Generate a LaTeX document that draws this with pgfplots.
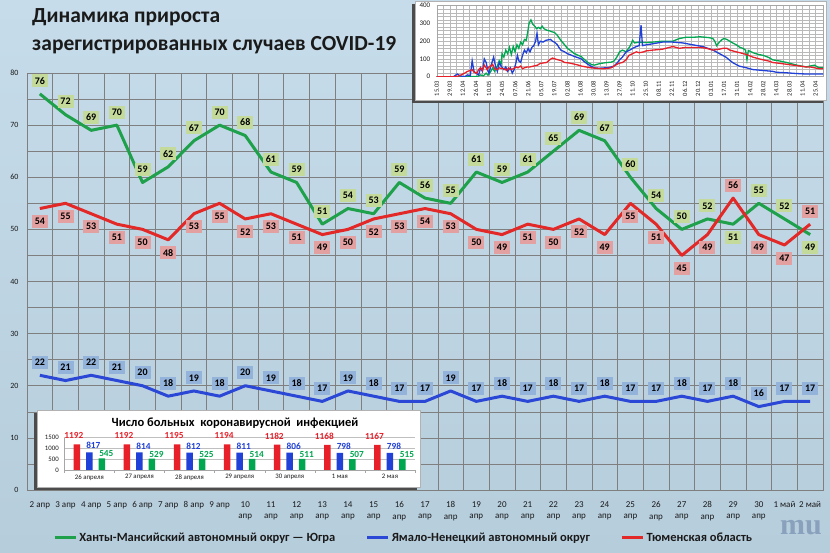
\documentclass[border=0pt]{standalone}
\usepackage{fontspec}
\setmainfont{Carlito}
\setsansfont{Carlito}
\newfontfamily\logofont{Liberation Serif}
\usepackage{pgfplots}
\pgfplotsset{compat=1.18}
\usepackage{pgfplotstable}

\definecolor{bgA}{HTML}{C6DCEA}
\definecolor{bgB}{HTML}{B6CDDC}
\definecolor{gridc}{HTML}{7F7F7F}
\definecolor{cG}{HTML}{1FA04A}
\definecolor{cR}{HTML}{E32828}
\definecolor{cB}{HTML}{2B47D6}
\definecolor{lG}{HTML}{C3DA9A}
\definecolor{lR}{HTML}{E2A0A0}
\definecolor{lB}{HTML}{93B3DA}
\definecolor{txt}{HTML}{1A1A1A}
\definecolor{bG}{HTML}{00A650}
\definecolor{bR}{HTML}{E8202A}
\definecolor{bB}{HTML}{2040D8}

\pgfplotstableread{
x y p
0 76 1
1 72 1
2 69 1
3 70 1
4 59 1
5 62 1
6 67 1
7 70 1
8 68 1
9 61 1
10 59 1
11 51 1
12 54 1
13 53 1
14 59 1
15 56 1
16 55 1
17 61 1
18 59 1
19 61 1
20 65 1
21 69 1
22 67 1
23 60 1
24 54 1
25 50 1
26 52 1
27 51 -1
28 55 1
29 52 1
30 49 -1
}\tblG

\pgfplotstableread{
x y p
0 54 -1
1 55 -1
2 53 -1
3 51 -1
4 50 -1
5 48 -1
6 53 -1
7 55 -1
8 52 -1
9 53 -1
10 51 -1
11 49 -1
12 50 -1
13 52 -1
14 53 -1
15 54 -1
16 53 -1
17 50 -1
18 49 -1
19 51 -1
20 50 -1
21 52 -1
22 49 -1
23 55 -1
24 51 -1
25 45 -1
26 49 -1
27 56 1
28 49 -1
29 47 -1
30 51 1
}\tblR

\pgfplotstableread{
x y p
0 22 1
1 21 1
2 22 1
3 21 1
4 20 1
5 18 1
6 19 1
7 18 1
8 20 1
9 19 1
10 18 1
11 17 1
12 19 1
13 18 1
14 17 1
15 17 1
16 19 1
17 17 1
18 18 1
19 17 1
20 18 1
21 17 1
22 18 1
23 17 1
24 17 1
25 18 1
26 17 1
27 18 1
28 16 1
29 17 1
30 17 1
}\tblB

\pgfplotsset{
  lbl/.style={
    draw=none, forget plot, nodes near coords,
    point meta=explicit symbolic,
    visualization depends on={\thisrow{p}\as\lp},
    nodes near coords align={center},
    every node near coord/.append style={
      font=\fontsize{10bp}{11bp}\selectfont\bfseries, text=black,
      fill=#1, inner sep=1bp, minimum width=16bp, minimum height=13bp,
      yshift=\lp*13bp}
  },
  blbl/.style 2 args={
    nodes near coords, point meta=explicit symbolic,
    every node near coord/.append style={font=\fontsize{9.3bp}{10bp}\selectfont\bfseries,
      text=#1, inner sep=0.2bp, #2}
  }
}

\begin{document}
\begin{tikzpicture}
\path[use as bounding box] (0,0) rectangle (830bp,553bp);
\shade[top color=bgA, bottom color=bgB] (0,0) rectangle (830bp,553bp);

\node[anchor=west, text=txt, font=\fontsize{21.5bp}{25bp}\selectfont\bfseries, inner sep=0pt] at (32bp,536bp) {Динамика прироста};
\node[anchor=west, text=txt, font=\fontsize{21.5bp}{25bp}\selectfont\bfseries, inner sep=0pt] at (32bp,508bp) {зарегистрированных случаев COVID-19};

\begin{axis}[
  at={(27bp,63bp)}, anchor=south west,
  scale only axis, width=796bp, height=417bp,
  xmin=-0.5, xmax=30.5, ymin=0, ymax=80,
  xtick={0,...,30},
  xticklabels={2 апр,3 апр,4 апр,5 апр,6 апр,7 апр,8 апр,9 апр,
    {10\\апр},{11\\апр},{12\\апр},{13\\апр},{14\\апр},{15\\апр},{16\\апр},{17\\апр},
    {18\\апр},{19\\апр},{20\\апр},{21\\апр},{22\\апр},{23\\апр},{24\\апр},{25\\апр},
    {26\\апр},{27\\апр},{28\\апр},{29\\апр},{30\\апр},1 май,2 май},
  minor xtick={-0.5,0.5,...,30.5},
  ytick={0,10,...,80},
  minor ytick={5,15,...,75},
  xmajorgrids=false, xminorgrids=true, ymajorgrids=true, yminorgrids=true,
  grid style={gridc, line width=0.6bp},
  minor grid style={gridc, line width=0.6bp},
  axis line style={gridc, line width=0.6bp},
  major tick length=0pt, minor tick length=0pt,
  /pgf/number format/assume math mode=true,
  xticklabel style={font=\fontsize{9bp}{11.5bp}\selectfont, text=txt, align=center, yshift=-8bp},
  yticklabel style={font=\fontsize{8bp}{9bp}\selectfont, text=txt, xshift=-5bp},
  legend style={at={(0.473,-0.1144)}, anchor=center, legend columns=3, draw=none, fill=none,
    font=\fontsize{12.5bp}{14bp}\selectfont\bfseries, text=txt,
    /tikz/every even column/.append style={column sep=28bp}},
  legend image code/.code={\draw[#1, line width=3.5bp] (0bp,0bp) -- (21bp,0bp);},
]
\addplot[cG, line width=3bp, line join=round] table[x=x,y=y]{\tblG};
\addlegendentry{Ханты-Мансийский автономный округ — Югра}
\addplot[cB, line width=3bp, line join=round] table[x=x,y=y]{\tblB};
\addlegendentry{Ямало-Ненецкий автономный округ}
\addplot[cR, line width=3bp, line join=round] table[x=x,y=y]{\tblR};
\addlegendentry{Тюменская область}
\addplot[lbl=lG] table[x=x,y=y,meta=y]{\tblG};
\addplot[lbl=lB] table[x=x,y=y,meta=y]{\tblB};
\addplot[lbl=lR] table[x=x,y=y,meta=y]{\tblR};
\end{axis}

% logo
\node[text=lB!80!black, opacity=0.7, font=\logofont\fontsize{30bp}{30bp}\selectfont\bfseries] at (801bp,25bp) {mu};

% top-right inset box
\fill[black!70] (412bp,450bp) rectangle (823bp,549bp);
\fill[white, draw=gray!60] (415bp,453bp) rectangle (826bp,552bp);

\begin{axis}[
  at={(436.7bp,476.3bp)}, anchor=south west,
  scale only axis, width=386.3bp, height=71bp,
  xmin=0, xmax=414, ymin=0, ymax=400,
  xtick={0,14,...,406},
  xticklabels={15.03,29.03,12.04,26.04,10.05,24.05,07.06,21.06,05.07,19.07,02.08,16.08,30.08,13.09,27.09,11.10,25.10,08.11,22.11,06.12,20.12,03.01,17.01,31.01,14.02,28.02,14.03,28.03,11.04,25.04},
  minor x tick num=1,
  ytick={0,100,...,400},
  minor y tick num=4,
  grid=both,
  grid style={gray!55, line width=0.4bp},
  minor grid style={gray!55, line width=0.4bp},
  axis line style={gray!70, line width=0.4bp},
  major tick length=0pt, minor tick length=0pt,
  /pgf/number format/assume math mode=true,
  xticklabel style={rotate=90, anchor=east, font=\fontsize{6.5bp}{7bp}\selectfont, text=txt, xshift=-1bp},
  yticklabel style={font=\fontsize{7bp}{8bp}\selectfont, text=txt, xshift=-3bp},
]
\addplot[bG, line width=1.3bp] coordinates {(0,0) (20,0) (35,0) (44,2) (47,10) (50,5) (53,20) (55,8) (58,30) (60,50) (62,30) (65,60) (67,90) (69,70) (70,130) (72,110) (74,150) (76,130) (78,165) (80,125) (82,170) (84,140) (86,180) (88,160) (90,195) (92,180) (94,210) (96,205) (97.5,250) (99,300) (101,320) (103,295) (105,285) (107,270) (109,278) (111,270) (113,285) (115,270) (118,262) (121,258) (124,252) (126,250) (129,235) (133,205) (137,180) (140,160) (144,145) (147,132) (151,122) (155,113) (158,98) (162,80) (166,68) (169,65) (172,70) (176,75) (180,78) (183,80) (187,82) (190,88) (193,110) (196,140) (199,150) (203,140) (207,170) (210,205) (212,190) (217,195) (224,192) (232,195) (242,200) (253,200) (260,215) (267,222) (275,222) (282,225) (288,222) (292,220) (296,215) (298,200) (300,175) (303,195) (306,210) (308,215) (311,210) (314,200) (318,188) (321,180) (325,165) (328,160) (331,150) (332.5,95) (334,148) (339,135) (345,125) (350,120) (356,108) (360,95) (368,88) (375,80) (381,72) (386,65) (391,60) (396,55) (400,60) (405,65) (408,55) (410,50) (414,50)};
\addplot[bB, line width=1.3bp] coordinates {(0,0) (18,0) (22,15) (25,5) (30,0) (33,10) (36,5) (38,90) (40,30) (42,20) (45,10) (47,50) (49,30) (51,100) (53,80) (55,30) (56,20) (58,60) (61,110) (63,60) (65,30) (67,80) (69,60) (72,40) (74,55) (76,30) (79,50) (81,20) (83,40) (85,80) (86.5,120) (88,90) (90,80) (92,120) (94,150) (96,135) (98,160) (100,140) (102,165) (104,175) (106,200) (107.5,245) (109,180) (111,200) (114,195) (117,205) (120,208) (122,210) (124,200) (126,195) (129,182) (131,165) (133,150) (137,140) (140,130) (144,122) (147,115) (151,108) (155,100) (158,85) (162,70) (165,60) (169,50) (173,48) (176,48) (180,50) (183,50) (187,55) (190,60) (193,75) (196,95) (199,110) (203,140) (207,150) (210,160) (214,170) (217,175) (219,290) (220.5,175) (225,180) (231,185) (242,195) (253,195) (264,190) (274,180) (285,170) (296,150) (303,130) (310,110) (317,80) (324,60) (332,50) (339,40) (350,35) (360,30) (364,25) (375,22) (385,18) (396,15) (414,15)};
\addplot[bR, line width=1.3bp] coordinates {(0,0) (18,0) (23,3) (26,10) (30,20) (33,30) (36,35) (38,40) (40,25) (43,20) (45,40) (47,50) (49,35) (51,65) (53,50) (54,40) (56,55) (58,60) (60,70) (62,45) (65,40) (67,50) (70,45) (72,45) (75,35) (77,50) (79,40) (82,45) (85,55) (87,50) (90,60) (92,45) (94,50) (97,55) (100,55) (104,60) (108,65) (111,75) (115,78) (118,80) (121,95) (124,105) (127,100) (130,95) (134,90) (137,80) (141,78) (144,75) (148,70) (152,65) (155,60) (160,55) (165,50) (170,48) (176,45) (180,45) (183,47) (187,50) (190,60) (195,75) (199,80) (203,95) (206,120) (210,130) (214,140) (217,135) (222,140) (224,145) (232,150) (242,155) (253,170) (260,160) (267,165) (275,165) (282,165) (289,160) (296,150) (303,155) (307,160) (311,160) (314,150) (321,140) (325,135) (332,125) (339,110) (346,100) (350,95) (356,88) (360,80) (368,75) (375,70) (382,65) (389,60) (396,55) (400,55) (405,50) (410,45) (414,45)};
\end{axis}

% bottom-left inset box
\fill[black!70] (34bp,63bp) rectangle (417bp,140bp);
\fill[white, draw=gray!60] (37bp,66bp) rectangle (420bp,143bp);
\node[text=black, font=\fontsize{12.5bp}{14bp}\selectfont\bfseries] at (235bp,130bp) {Число больных\ \ коронавирусной\ \ инфекцией};

\begin{axis}[
  at={(64.3bp,83bp)}, anchor=south west,
  scale only axis, width=350.7bp, height=32.3bp,
  xmin=-0.5, xmax=6.5, ymin=0, ymax=1500,
  ytick={0,500,1000,1500},
  xtick={0,...,6},
  xticklabels={26 апреля,27 апреля,28 апреля,29 апреля,30 апреля,1 мая,2 мая},
  minor xtick={-0.5,0.5,...,6.5},
  ymajorgrids=true,
  grid style={gray!50, line width=0.5bp},
  axis x line*=bottom, axis y line*=left,
  axis line style={gray!70, line width=0.5bp},
  major tick length=0pt, minor tick length=3bp, tick align=outside,
  minor tick style={gray!70},
  /pgf/number format/assume math mode=true,
  /pgf/number format/1000 sep={},
  xticklabel style={font=\fontsize{6.8bp}{8bp}\selectfont, text=txt, yshift=-1bp},
  yticklabel style={font=\fontsize{6.8bp}{8bp}\selectfont, text=txt, xshift=-2bp},
  clip=false,
]
\addplot[ybar, bar width=6.5bp, bar shift=-12.5bp, fill=bR, draw=none,
  blbl={bR}{xshift=-15.5bp, yshift=5bp}]
  coordinates {(0,1192)[1192] (1,1192)[1192] (2,1195)[1195] (3,1194)[1194] (4,1182)[1182] (5,1168)[1168] (6,1167)[1167]};
\addplot[ybar, bar width=6.5bp, bar shift=0bp, fill=bB, draw=none,
  blbl={bB}{xshift=4bp, yshift=3bp}]
  coordinates {(0,817)[817] (1,814)[814] (2,812)[812] (3,811)[811] (4,806)[806] (5,798)[798] (6,798)[798]};
\addplot[ybar, bar width=6.5bp, bar shift=12.5bp, fill=bG, draw=none,
  blbl={bG}{xshift=17bp, yshift=1bp}]
  coordinates {(0,545)[545] (1,529)[529] (2,525)[525] (3,514)[514] (4,511)[511] (5,507)[507] (6,515)[515]};
\end{axis}
\end{tikzpicture}
\end{document}
